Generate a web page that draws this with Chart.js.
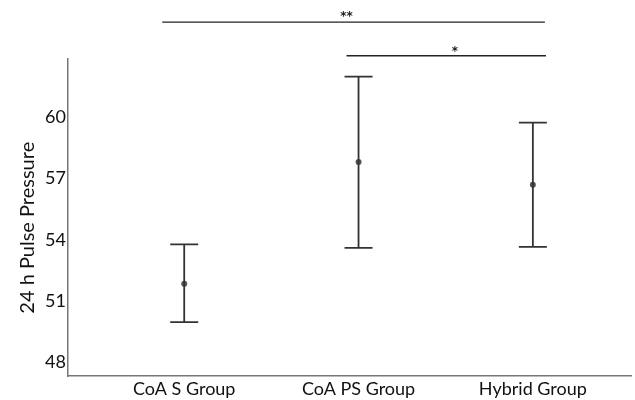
<!DOCTYPE html>
<html>
<head>
<meta charset="utf-8">
<script src="https://cdn.jsdelivr.net/npm/chart.js@4"></script>
<style>
  html, body { margin: 0; padding: 0; background: #fff; overflow: hidden; }
  canvas { display: block; }
</style>
</head>
<body>
<canvas id="c" width="635" height="400"></canvas>
<script>
// groups and values
const groups = ['CoA S Group', 'CoA PS Group', 'Hybrid Group'];
const means = [51.85, 57.8, 56.68];
const lower = [49.97, 53.6, 53.65];
const upper = [53.77, 61.97, 59.72];
const yTicks = [48, 51, 54, 57, 60];

// significance brackets (x in group units, y in pressure units)
const bracketFrom = [0.874, 1.931];
const bracketTo = [3.069, 3.075];
const bracketY = [64.63, 62.99];
const bracketText = ['**', '*'];
const bracketTextX = [1.931, 2.552];
const bracketTextY = [65.02, 63.32];

const fontFam = 'Lato, "Open Sans", sans-serif';

const errorBars = {
  id: 'errorBars',
  afterDatasetsDraw(chart) {
    const ctx = chart.ctx, xs = chart.scales.x, ys = chart.scales.y;
    ctx.save();
    ctx.strokeStyle = '#333';
    ctx.lineWidth = 1.8;
    for (let i = 0; i < groups.length; i++) {
      const x = xs.getPixelForValue(i + 1);
      const y1 = ys.getPixelForValue(lower[i]);
      const y2 = ys.getPixelForValue(upper[i]);
      ctx.beginPath();
      ctx.moveTo(x, y1); ctx.lineTo(x, y2);
      ctx.moveTo(x - 14, y1); ctx.lineTo(x + 14, y1);
      ctx.moveTo(x - 14, y2); ctx.lineTo(x + 14, y2);
      ctx.stroke();
    }
    ctx.restore();
  },
  afterDraw(chart) {
    const ctx = chart.ctx, xs = chart.scales.x, ys = chart.scales.y;
    ctx.save();
    ctx.strokeStyle = '#222';
    ctx.lineWidth = 1.4;
    ctx.fillStyle = '#222';
    ctx.font = 'bold 12px "DejaVu Sans", sans-serif';
    ctx.textAlign = 'center';
    ctx.textBaseline = 'alphabetic';
    for (let i = 0; i < bracketY.length; i++) {
      const y = ys.getPixelForValue(bracketY[i]);
      ctx.beginPath();
      ctx.moveTo(xs.getPixelForValue(bracketFrom[i]), y);
      ctx.lineTo(xs.getPixelForValue(bracketTo[i]), y);
      ctx.stroke();
      const m = ctx.measureText(bracketText[i]);
      const ty = ys.getPixelForValue(bracketTextY[i]);
      ctx.fillText(bracketText[i], xs.getPixelForValue(bracketTextX[i]),
        ty + (m.actualBoundingBoxAscent - m.actualBoundingBoxDescent) / 2);
    }
    ctx.restore();
  }
};

new Chart(document.getElementById('c'), {
  type: 'scatter',
  data: {
    datasets: [{
      data: means.map((m, i) => ({ x: i + 1, y: m })),
      pointRadius: 3,
      pointBackgroundColor: '#555',
      pointBorderColor: '#555',
      pointBorderWidth: 0
    }]
  },
  options: {
    responsive: false,
    animation: false,
    layout: { padding: { top: 59, left: 0, right: 0, bottom: 0 } },
    plugins: {
      legend: { display: false },
      tooltip: { enabled: false }
    },
    scales: {
      x: {
        type: 'linear',
        min: 0.3333,
        max: 3.563,
        afterBuildTicks(scale) { scale.ticks = groups.map((g, i) => ({ value: i + 1 })); },
        afterFit(scale) { scale.height = 24; },
        grid: { display: false, drawTicks: false },
        border: { display: true, color: '#777', width: 1.5 },
        ticks: {
          padding: 2,
          color: '#111',
          font: { family: fontFam, size: 18 },
          maxRotation: 0,
          callback: (v) => groups[v - 1]
        }
      },
      y: {
        min: 47.34,
        max: 62.83,
        afterBuildTicks(scale) { scale.ticks = yTicks.map(v => ({ value: v })); },
        afterFit(scale) { scale.width = 68; },
        grid: { display: false, drawTicks: false },
        border: { display: true, color: '#777', width: 1.5 },
        ticks: {
          padding: 2,
          color: '#111',
          font: { family: fontFam, size: 18 }
        },
        title: {
          display: true,
          text: '24 h Pulse Pressure    ',
          color: '#111',
          font: { family: fontFam, size: 20 },
          padding: { top: 16, bottom: 0 }
        }
      }
    }
  },
  plugins: [errorBars]
});
</script>
</body>
</html>
